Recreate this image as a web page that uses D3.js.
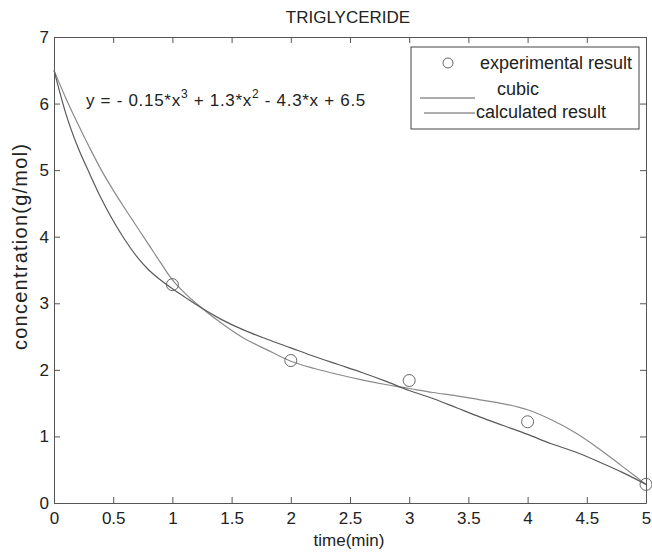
<!DOCTYPE html>
<html>
<head>
<meta charset="utf-8">
<script src="https://cdn.jsdelivr.net/npm/d3@7"></script>
<style>
  body { margin: 0; background: #fff; }
  svg text { font-family: "Liberation Sans", Arial, sans-serif; fill: #222; }
</style>
</head>
<body>
<div id="chart"></div>
<script>
// measured points
const expTime = [1, 2, 3, 4, 5];
const expConc = [3.28, 2.14, 1.84, 1.22, 0.28];

// curves
const curveTime = [0, 0.1, 0.2, 0.3, 0.4, 0.5, 0.6, 0.7, 0.8, 0.9, 1.0, 1.1, 1.2, 1.4, 1.6, 1.8, 2.0,
    2.2, 2.4, 2.6, 2.8, 3.0, 3.2, 3.4, 3.6, 3.8, 4.0, 4.2, 4.4, 4.6, 4.8, 5.0];
const cubicConc = [6.5, 6.08, 5.7, 5.34, 5.0, 4.7, 4.42, 4.15, 3.88, 3.61, 3.35, 3.16, 3.0, 2.72, 2.48, 2.3, 2.13,
    2.02, 1.93, 1.85, 1.78, 1.72, 1.66, 1.61, 1.55, 1.49, 1.40, 1.25, 1.06, 0.82, 0.55, 0.28];
const calcConc = [6.5, 5.85, 5.35, 4.95, 4.57, 4.24, 3.95, 3.7, 3.5, 3.35, 3.22, 3.1, 2.98, 2.77, 2.6, 2.46, 2.33,
    2.2, 2.08, 1.96, 1.83, 1.69, 1.57, 1.43, 1.29, 1.16, 1.03, 0.89, 0.77, 0.62, 0.46, 0.28];

const xTicks = [0, 0.5, 1, 1.5, 2, 2.5, 3, 3.5, 4, 4.5, 5];
const xTickLabels = ["0", "0.5", "1", "1.5", "2", "2.5", "3", "3.5", "4", "4.5", "5"];
const yTicks = [0, 1, 2, 3, 4, 5, 6, 7];
const yTickLabels = ["0", "1", "2", "3", "4", "5", "6", "7"];

const legendLabels = ["experimental result", "cubic", "calculated result"];

const width = 652, height = 554;
const margin = { top: 37, right: 6, bottom: 51, left: 54 };

const svg = d3.select("#chart").append("svg")
    .attr("width", width)
    .attr("height", height);

const x = d3.scaleLinear().domain([0, 5]).range([margin.left, width - margin.right]);
const y = d3.scaleLinear().domain([0, 7]).range([height - margin.bottom, margin.top]);

const axisColor = "#555";

function styleAxis(g) {
    g.select(".domain").attr("stroke", axisColor);
    g.selectAll(".tick line").attr("stroke", axisColor);
    g.selectAll(".tick text").style("font-size", "17px").attr("fill", "#222");
}

// bottom / left with labels, ticks pointing inward
svg.append("g")
    .attr("transform", `translate(0,${y(0)})`)
    .call(d3.axisBottom(x).tickValues(xTicks)
        .tickFormat((d, i) => xTickLabels[i])
        .tickSizeInner(-6).tickSizeOuter(0).tickPadding(9))
    .call(styleAxis);

svg.append("g")
    .attr("transform", `translate(${x(0)},0)`)
    .call(d3.axisLeft(y).tickValues(yTicks)
        .tickFormat((d, i) => yTickLabels[i])
        .tickSizeInner(-6).tickSizeOuter(0).tickPadding(5))
    .call(styleAxis);

// box: top and right
svg.append("g")
    .attr("transform", `translate(0,${y(7)})`)
    .call(d3.axisTop(x).tickValues(xTicks).tickFormat("")
        .tickSizeInner(-6).tickSizeOuter(0))
    .call(styleAxis);

svg.append("g")
    .attr("transform", `translate(${x(5)},0)`)
    .call(d3.axisRight(y).tickValues(yTicks).tickFormat("")
        .tickSizeInner(-6).tickSizeOuter(0))
    .call(styleAxis);

const cubicColor = "#8a8a8a";
const calcColor = "#5a5a5a";

const line = d3.line()
    .x(d => x(d[0]))
    .y(d => y(d[1]))
    .curve(d3.curveMonotoneX);

svg.append("path")
    .datum(curveTime.map((t, i) => [t, cubicConc[i]]))
    .attr("fill", "none")
    .attr("stroke", cubicColor)
    .attr("stroke-width", 1.2)
    .attr("d", line);

svg.append("path")
    .datum(curveTime.map((t, i) => [t, calcConc[i]]))
    .attr("fill", "none")
    .attr("stroke", calcColor)
    .attr("stroke-width", 1.2)
    .attr("d", line);

svg.selectAll(".exp")
    .data(expTime.map((t, i) => [t, expConc[i]]))
    .enter()
    .append("circle")
    .attr("class", "exp")
    .attr("cx", d => x(d[0]))
    .attr("cy", d => y(d[1]))
    .attr("r", 6)
    .attr("fill", "none")
    .attr("stroke", "#666")
    .attr("stroke-width", 1);

// title and axis labels
svg.append("text")
    .attr("x", 348)
    .attr("y", 23)
    .attr("text-anchor", "middle")
    .style("font-size", "17px")
    .text("TRIGLYCERIDE");

svg.append("text")
    .attr("x", 349)
    .attr("y", 546)
    .attr("text-anchor", "middle")
    .style("font-size", "17px")
    .text("time(min)");

svg.append("text")
    .attr("transform", "rotate(-90)")
    .attr("x", -247)
    .attr("y", 27)
    .attr("text-anchor", "middle")
    .style("font-size", "20px")
    .attr("textLength", 206)
    .text("concentration(g/mol)");

// fitted equation
const eq = svg.append("text")
    .attr("x", 86)
    .attr("y", 106)
    .style("font-size", "17px")
    .style("letter-spacing", "0.7px");
eq.append("tspan").text("y = - 0.15*x");
eq.append("tspan").attr("dy", -8).style("font-size", "12px").text("3");
eq.append("tspan").attr("dy", 8).text(" + 1.3*x");
eq.append("tspan").attr("dy", -8).style("font-size", "12px").text("2");
eq.append("tspan").attr("dy", 8).text(" - 4.3*x + 6.5");

// legend
const lg = svg.append("g");
lg.append("rect")
    .attr("x", 411).attr("y", 47)
    .attr("width", 228).attr("height", 82)
    .attr("fill", "#fff")
    .attr("stroke", "#444")
    .attr("stroke-width", 1);

lg.append("circle")
    .attr("cx", 448).attr("cy", 63)
    .attr("r", 5)
    .attr("fill", "none")
    .attr("stroke", "#666");

lg.append("text").attr("x", 480).attr("y", 69).style("font-size", "18px").text(legendLabels[0]);

lg.append("line")
    .attr("x1", 420).attr("x2", 475).attr("y1", 98).attr("y2", 98)
    .attr("stroke", calcColor);
lg.append("text").attr("x", 497).attr("y", 95).style("font-size", "18px").text(legendLabels[1]);

lg.append("line")
    .attr("x1", 424).attr("x2", 475).attr("y1", 113).attr("y2", 113)
    .attr("stroke", calcColor);
lg.append("text").attr("x", 476).attr("y", 118).style("font-size", "18px").text(legendLabels[2]);
</script>
</body>
</html>
